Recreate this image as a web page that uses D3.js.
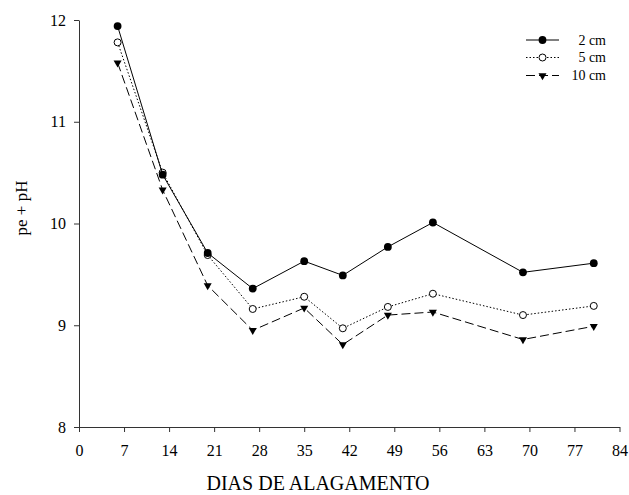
<!DOCTYPE html>
<html>
<head>
<meta charset="utf-8">
<script src="https://cdn.jsdelivr.net/npm/d3@7"></script>
<style>
  html, body { margin: 0; padding: 0; background: #fff; }
  svg { display: block; }
  text { font-family: "Liberation Serif", "Times New Roman", serif; fill: #000; }
</style>
</head>
<body>
<svg id="chart" width="629" height="495"></svg>
<script>
// Days of flooding at which pe + pH was measured
const days = [6, 13, 20, 27, 35, 41, 48, 55, 69, 80];

// pe + pH at each soil depth
const depth2cm  = [11.94, 10.48, 9.71, 9.36, 9.63, 9.49, 9.77, 10.01, 9.52, 9.61];
const depth5cm  = [11.78, 10.50, 9.69, 9.16, 9.28, 8.97, 9.18, 9.31, 9.10, 9.19];
const depth10cm = [11.58, 10.33, 9.39, 8.95, 9.17, 8.81, 9.10, 9.13, 8.86, 8.99];

const seriesNames = ["2 cm", "5 cm", "10 cm"];
const xTicks = [0, 7, 14, 21, 28, 35, 42, 49, 56, 63, 70, 77, 84];
const yTicks = [8, 9, 10, 11, 12];

const serif = '"Liberation Serif", "Times New Roman", serif';
const svg = d3.select("#chart");
const x = d3.scaleLinear().domain([0, 84]).range([79, 619.5]);
const y = d3.scaleLinear().domain([8, 12]).range([427, 20]);

// Axes
const xAxis = svg.append("g")
  .attr("transform", `translate(0,${y(8)})`)
  .call(d3.axisBottom(x).tickValues(xTicks).tickFormat(d3.format("d"))
    .tickSize(5).tickSizeOuter(0).tickPadding(13));
const yAxis = svg.append("g")
  .attr("transform", `translate(${x(0)},0)`)
  .call(d3.axisLeft(y).tickValues(yTicks).tickFormat(d3.format("d"))
    .tickSize(5).tickSizeOuter(0).tickPadding(8));
[xAxis, yAxis].forEach(g => {
  g.attr("font-family", serif).attr("font-size", 16);
  g.select(".domain").attr("stroke", "#333").attr("stroke-width", 1);
  g.selectAll(".tick line").attr("stroke", "#333");
  g.selectAll(".tick text").attr("fill", "#000");
});

// Axis titles
svg.append("text")
  .attr("x", 318).attr("y", 490)
  .attr("text-anchor", "middle")
  .style("font-size", "20px")
  .text("DIAS DE ALAGAMENTO");
svg.append("text")
  .attr("transform", "translate(27,208) rotate(-90)")
  .attr("text-anchor", "middle")
  .style("font-size", "17px")
  .text("pe + pH");

// Series styling
const styles = [
  { values: depth2cm,  dash: null,  marker: "filledCircle" },
  { values: depth5cm,  dash: "1.5,2", marker: "openCircle" },
  { values: depth10cm, dash: "9,4", marker: "triangle" }
];

const tri = d3.symbol().type(d3.symbolTriangle).size(28);

function drawMarker(g, type, cx, cy) {
  if (type === "filledCircle") {
    g.append("circle").attr("cx", cx).attr("cy", cy).attr("r", 3.9).attr("fill", "#000");
  } else if (type === "openCircle") {
    g.append("circle").attr("cx", cx).attr("cy", cy).attr("r", 3.5)
      .attr("fill", "#fff").attr("stroke", "#000").attr("stroke-width", 1);
  } else {
    g.append("path").attr("d", tri())
      .attr("transform", `translate(${cx},${cy}) rotate(180)`)
      .attr("fill", "#000");
  }
}

const line = d3.line().x(d => x(d[0])).y(d => y(d[1]));

// Draw back-to-front so the shallowest depth sits on top
styles.slice().reverse().forEach(s => {
  const pts = days.map((d, i) => [d, s.values[i]]);
  svg.append("path")
    .datum(pts)
    .attr("d", line)
    .attr("fill", "none")
    .attr("stroke", "#000")
    .attr("stroke-width", 1)
    .attr("stroke-dasharray", s.dash);
  const g = svg.append("g");
  pts.forEach(p => drawMarker(g, s.marker, x(p[0]), y(p[1])));
});

// Legend
const legend = svg.append("g");
const legY = [40, 57.5, 75.5];
styles.forEach((s, i) => {
  legend.append("line")
    .attr("x1", 526).attr("x2", 559)
    .attr("y1", legY[i]).attr("y2", legY[i])
    .attr("stroke", "#000").attr("stroke-width", 1)
    .attr("stroke-dasharray", s.dash);
  drawMarker(legend, s.marker, 542.5, legY[i]);
  legend.append("text")
    .attr("x", 606).attr("y", legY[i] + 4.5)
    .attr("text-anchor", "end")
    .style("font-size", "14px")
    .text(seriesNames[i]);
});
</script>
</body>
</html>
